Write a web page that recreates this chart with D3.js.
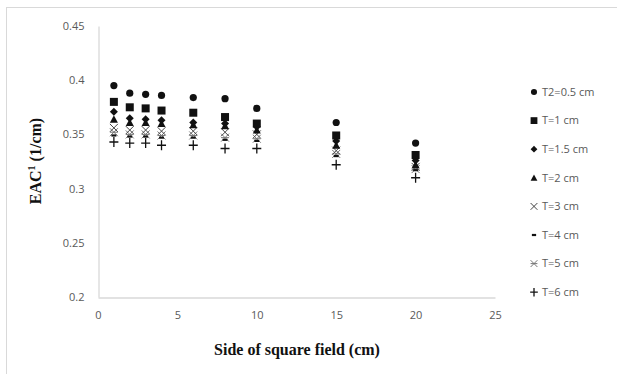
<!DOCTYPE html>
<html><head><meta charset="utf-8">
<script src="https://cdn.jsdelivr.net/npm/d3@7"></script>
<style>body{margin:0;background:#fff}svg{display:block}</style>
</head><body>
<svg id="c" width="617" height="374"></svg>
<script>
const xValues = [1, 2, 3, 4, 6, 8, 10, 15, 20];
const seriesNames = ["T2=0.5 cm", "T=1 cm", "T=1.5 cm", "T=2 cm", "T=3 cm", "T=4 cm", "T=5 cm", "T=6 cm"];
const sT05 = [0.395, 0.388, 0.387, 0.386, 0.384, 0.383, 0.374, 0.361, 0.342];
const sT1  = [0.380, 0.375, 0.374, 0.372, 0.370, 0.366, 0.360, 0.349, 0.331];
const sT15 = [0.371, 0.365, 0.364, 0.363, 0.361, 0.360, 0.357, 0.344, 0.326];
const sT2  = [0.364, 0.361, 0.361, 0.360, 0.359, 0.358, 0.354, 0.340, 0.322];
const sT3  = [0.356, 0.354, 0.354, 0.353, 0.353, 0.352, 0.350, 0.335, 0.320];
const sT4  = [0.349, 0.348, 0.348, 0.347, 0.347, 0.345, 0.344, 0.330, 0.317];
const sT5  = [0.352, 0.350, 0.350, 0.349, 0.349, 0.347, 0.346, 0.332, 0.318];
const sT6  = [0.343, 0.342, 0.342, 0.340, 0.340, 0.337, 0.337, 0.322, 0.310];
const seriesValues = [sT05, sT1, sT15, sT2, sT3, sT4, sT5, sT6];
const markerTypes = ["circle", "square", "diamond", "triangle", "x", "dash", "star", "plus"];
const xTicks = [0, 5, 10, 15, 20, 25];
const yTicks = [0.2, 0.25, 0.3, 0.35, 0.4, 0.45];

const svg = d3.select("#c");
// outer frame
svg.append("rect").attr("x", 6.5).attr("y", 7.5).attr("width", 640).attr("height", 400)
  .attr("fill", "none").attr("stroke", "#d9d9d9");

const x = d3.scaleLinear().domain([0, 25]).range([98, 495]);
const y = d3.scaleLinear().domain([0.2, 0.45]).range([297, 26]);

const tickFont = "'Open Sans', 'Liberation Sans', sans-serif";
// axes
const xa = svg.append("g").attr("transform", "translate(0,297.5)")
  .call(d3.axisBottom(x).tickValues(xTicks).tickSize(0).tickPadding(14).tickFormat(d3.format("d")));
const ya = svg.append("g").attr("transform", "translate(98.5,0)")
  .call(d3.axisLeft(y).tickValues(yTicks).tickSize(0).tickPadding(14).tickFormat(d => String(+d.toFixed(2))));
[xa, ya].forEach(g => {
  g.select(".domain").attr("stroke", "#d9d9d9").attr("stroke-width", 1.3);
  g.selectAll("text").attr("fill", "#595959").style("font-family", tickFont).style("font-size", "11px");
});

function drawMarker(g, type, cx, cy, s = 1) {
  const k = "#111";
  const a = 4 * s;
  if (type === "circle") g.append("circle").attr("cx", cx).attr("cy", cy).attr("r", 3.6 * s).attr("fill", k);
  else if (type === "square") g.append("rect").attr("x", cx - a).attr("y", cy - a).attr("width", 2 * a).attr("height", 2 * a).attr("fill", k);
  else if (type === "diamond") g.append("path").attr("d", `M${cx},${cy-a}L${cx+a},${cy}L${cx},${cy+a}L${cx-a},${cy}Z`).attr("fill", k);
  else if (type === "triangle") g.append("path").attr("d", `M${cx},${cy-a}L${cx+a},${cy+a*0.875}L${cx-a},${cy+a*0.875}Z`).attr("fill", k);
  else if (type === "x") g.append("path").attr("d", `M${cx-a},${cy-a}L${cx+a},${cy+a}M${cx+a},${cy-a}L${cx-a},${cy+a}`).attr("stroke", "#444").attr("stroke-width", 1).attr("fill", "none");
  else if (type === "dash") g.append("path").attr("d", `M${cx-2.5*s},${cy}L${cx+2.5*s},${cy}`).attr("stroke", k).attr("stroke-width", 2.2);
  else if (type === "star") g.append("path").attr("d", `M${cx-a},${cy-a}L${cx+a},${cy+a}M${cx+a},${cy-a}L${cx-a},${cy+a}M${cx-a},${cy}L${cx+a},${cy}`).attr("stroke", "#777").attr("stroke-width", 1).attr("fill", "none");
  else if (type === "plus") g.append("path").attr("d", `M${cx-4.5*s},${cy}L${cx+4.5*s},${cy}M${cx},${cy-5*s}L${cx},${cy+5*s}`).attr("stroke", k).attr("stroke-width", 1.3).attr("fill", "none");
}

// draw series (reverse so circles end up on top)
const pg = svg.append("g");
for (let s = seriesValues.length - 1; s >= 0; s--) {
  seriesValues[s].forEach((v, i) => drawMarker(pg, markerTypes[s], x(xValues[i]), y(v)));
}

// legend
const lg = svg.append("g");
seriesNames.forEach((name, i) => {
  const ly = 92 + i * 28.6;
  drawMarker(lg, markerTypes[i], 534, ly, 0.85);
  lg.append("text").attr("x", 542).attr("y", ly).attr("dy", "0.35em")
    .attr("fill", "#595959").style("font-family", tickFont).style("font-size", "11px").text(name);
});

// axis titles
const titleFont = "'Liberation Serif', 'DejaVu Serif', serif";
svg.append("text").attr("x", 297).attr("y", 355).attr("text-anchor", "middle")
  .style("font-family", titleFont).style("font-weight", "bold").style("font-size", "16px").attr("fill", "#111")
  .text("Side of square field (cm)");
const yt = svg.append("text").attr("transform", "translate(41,161) rotate(-90)").attr("text-anchor", "middle")
  .style("font-family", titleFont).style("font-weight", "bold").style("font-size", "16px").attr("fill", "#111");
yt.append("tspan").text("EAC");
yt.append("tspan").attr("dy", "-6").style("font-size", "10px").text("1");
yt.append("tspan").attr("dy", "6").text(" (1/cm)");
</script>
</body></html>
